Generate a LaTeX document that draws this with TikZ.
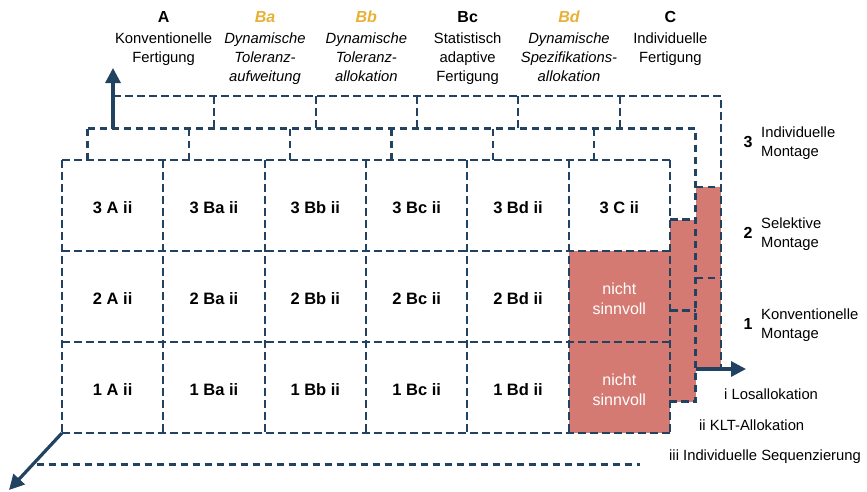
\documentclass[tikz,border=0pt]{standalone}
\usepackage{fontspec}
\setmainfont{Liberation Sans}
\usetikzlibrary{arrows.meta}
\definecolor{navy}{RGB}{34,66,97}
\definecolor{salmon}{RGB}{213,122,114}
\definecolor{gold}{RGB}{233,176,53}
\begin{document}
\begin{tikzpicture}[x=1pt,y=-1pt,
  grid/.style={navy, line width=2.2pt, dash pattern=on 7.5pt off 4.5pt},
  axis/.style={navy, line width=3.2pt, -{Triangle[length=15pt,width=15pt]}},
  cell/.style={font=\fontsize{16.5}{20}\selectfont\bfseries, inner sep=0},
  nope/.style={font=\fontsize{16}{19.5}\selectfont, text=white, align=center, inner sep=0},
  hkey/.style={font=\fontsize{16}{19}\selectfont\bfseries, inner sep=0},
  hkeyit/.style={hkey, text=gold, font=\fontsize{16}{19}\selectfont\bfseries\itshape},
  htxt/.style={font=\fontsize{14.8}{19}\selectfont, align=center, inner sep=0, anchor=north},
  htxtit/.style={htxt, font=\fontsize{14.8}{19}\selectfont\itshape},
  lvl/.style={font=\fontsize{16}{19}\selectfont\bfseries, inner sep=0},
  lvltxt/.style={font=\fontsize{14.8}{19}\selectfont, align=left, inner sep=0, anchor=west},
  alloc/.style={font=\fontsize{14.8}{19}\selectfont, inner sep=0, anchor=west}
]
\useasboundingbox (0,0) rectangle (867,491);

% red blocks: front layer C1/C2 and the visible side strips behind it
\fill[salmon] (568.67,251) rectangle (670,433);
\fill[salmon] (670,219.5) rectangle (695.5,401.5);
\fill[salmon] (695.5,187) rectangle (721,369);

% front layer (ii)
\foreach \y in {160,251,342,433} \draw[grid] (62,\y) -- (670,\y);
\foreach \k in {0,...,6} \draw[grid] ({62+101.333*\k},160) -- ({62+101.333*\k},433);

% middle layer
\draw[grid] (87.5,128.5) -- (695.5,128.5) -- (695.5,401.5) -- (670,401.5);
\foreach \k in {0,...,5} \draw[grid] ({87.5+101.333*\k},128.5) -- ({87.5+101.333*\k},160);
\draw[grid] (670,219.5) -- (695.5,219.5);
\draw[grid] (670,310.5) -- (695.5,310.5);

% back layer
\draw[grid] (113,96) -- (721,96) -- (721,369);
\foreach \k in {1,...,5} \draw[grid] ({113+101.333*\k},96) -- ({113+101.333*\k},128.5);
\draw[grid] (695.5,187) -- (721,187);
\draw[grid] (695.5,278) -- (721,278);

% foremost layer (iii)
\draw[grid] (36.5,464.5) -- (640,464.5);

% axes
\coordinate (upfoot) at (113,128.5);
\coordinate (uptip) at (113,68);
\coordinate (rfoot) at (695.5,369);
\coordinate (rtip) at (746,369);
\coordinate (dfoot) at (62,433);
\coordinate (dtip) at (9,490);
\draw[axis] (upfoot) -- (uptip);
\draw[axis] (rfoot) -- (rtip);
\draw[axis] (dfoot) -- (dtip);

% cell labels
\foreach \c [count=\i from 0] in {A,Ba,Bb,Bc,Bd} {
  \node[cell] (c3\c) at ({112.67+101.333*\i},208) {3 \c\ ii};
  \node[cell] (c2\c) at ({112.67+101.333*\i},299) {2 \c\ ii};
  \node[cell] (c1\c) at ({112.67+101.333*\i},390) {1 \c\ ii};
}
\node[cell] (c3C) at (619.33,208) {3 C ii};
\node[nope] (c2C) at (619.33,299) {nicht\\sinnvoll};
\node[nope] (c1C) at (619.33,390) {nicht\\sinnvoll};

% column headers
\node[hkey] (kA) at (163.67,17) {A};
\node[htxt] (tA) at (163.67,32.5) {Konventionelle\\Fertigung};
\node[hkeyit] (kBa) at (265,17) {Ba};
\node[htxtit] (tBa) at (265,32.5) {Dynamische\\Toleranz-\\aufweitung};
\node[hkeyit] (kBb) at (366.33,17) {Bb};
\node[htxtit] (tBb) at (366.33,32.5) {Dynamische\\Toleranz-\\allokation};
\node[hkey] (kBc) at (467.67,17) {Bc};
\node[htxt] (tBc) at (467.67,32.5) {Statistisch\\adaptive\\Fertigung};
\node[hkeyit] (kBd) at (569,17) {Bd};
\node[htxtit] (tBd) at (569,32.5) {Dynamische\\Spezifikations-\\allokation};
\node[hkey] (kC) at (670.33,17) {C};
\node[htxt] (tC) at (670.33,32.5) {Individuelle\\Fertigung};

% assembly levels
\node[lvl] (l3) at (748,142) {3};
\node[lvltxt] (t3) at (761,143) {Individuelle\\Montage};
\node[lvl] (l2) at (748,233) {2};
\node[lvltxt] (t2) at (761,234) {Selektive\\Montage};
\node[lvl] (l1) at (748,324) {1};
\node[lvltxt] (t1) at (761,325) {Konventionelle\\Montage};

% allocation levels
\node[alloc] (a1) at (724,394) {i Losallokation};
\node[alloc] (a2) at (699,425) {ii KLT-Allokation};
\node[alloc] (a3) at (669,457) {iii Individuelle Sequenzierung};
\end{tikzpicture}
\end{document}
